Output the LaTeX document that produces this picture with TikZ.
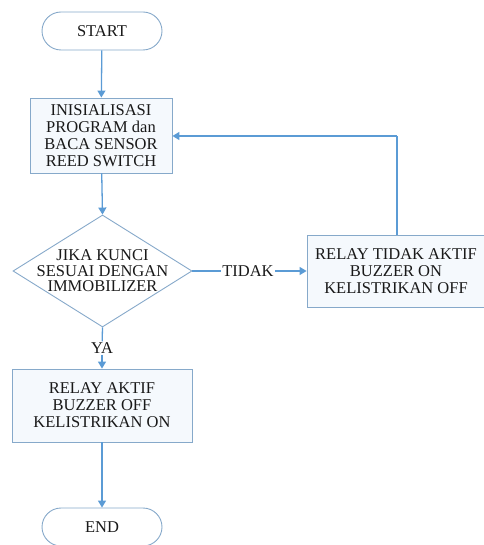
\documentclass[tikz,border=0pt]{standalone}
\usepackage{fontspec}
\setmainfont{Liberation Serif}
\usetikzlibrary{shapes.geometric,arrows.meta}
\definecolor{lineblue}{HTML}{5B9BD5}
\definecolor{edgeblue}{HTML}{86A9CA}
\definecolor{fillblue}{HTML}{F5F9FD}
\begin{document}
\begin{tikzpicture}[x=1pt,y=-1pt,
  txt/.style={font=\fontsize{16.5}{17}\selectfont, text=black!90, align=center},
  term/.style={txt, draw=edgeblue, line width=0.9pt, fill=white, rounded corners=19pt, minimum width=120pt, minimum height=38pt, inner sep=0pt},
  procbox/.style={txt, draw=edgeblue, line width=0.9pt, fill=fillblue, inner sep=0pt},
  decis/.style={txt, draw=edgeblue, line width=0.9pt, fill=white, diamond, aspect=1.6, inner sep=0pt, minimum width=179pt, minimum height=112pt},
  conn/.style={draw=lineblue, line width=1.3pt},
  arr/.style={conn, -{Triangle[length=7pt,width=8pt]}},
  lbl/.style={txt, fill=white, inner sep=1pt}
]
\useasboundingbox (0,0) rectangle (483,545);
\node[term] (start) at (102,31) {START};
\node[procbox, minimum width=142pt, minimum height=75pt] (init) at (101,135.5) {INISIALISASI\\PROGRAM dan\\BACA SENSOR\\REED SWITCH};
\node[decis] (dec) at (102.5,271) {};
\node[txt, font=\fontsize{16.5}{15.5}\selectfont] (dectext) at (102.5,271) {JIKA KUNCI\\SESUAI DENGAN\\IMMOBILIZER};
\node[procbox, minimum width=178pt, minimum height=72pt] (off) at (396,271) {RELAY TIDAK AKTIF\\BUZZER ON\\KELISTRIKAN OFF};
\node[procbox, minimum width=180pt, minimum height=73pt] (on) at (102,405.5) {RELAY AKTIF\\BUZZER OFF\\KELISTRIKAN ON};
\node[term] (end) at (102,527) {END};
\node[lbl] (tidak) at (248,271) {TIDAK};
\node[lbl] (ya) at (102,348) {YA};
\coordinate (corner) at (397,136);

\draw[arr] (start) -- (init);
\draw[arr] (init) -- (dec.north);
\draw[conn] (dec.east) -- (tidak);
\draw[arr] (tidak) -- (off);
\draw[conn] (dec.south) -- (ya);
\draw[arr] (ya) -- (on);
\draw[arr] (on) -- (end);
\draw[conn] (off.north -| corner) -- (corner);
\draw[arr] (corner) -- (init.east |- corner);
\end{tikzpicture}
\end{document}
